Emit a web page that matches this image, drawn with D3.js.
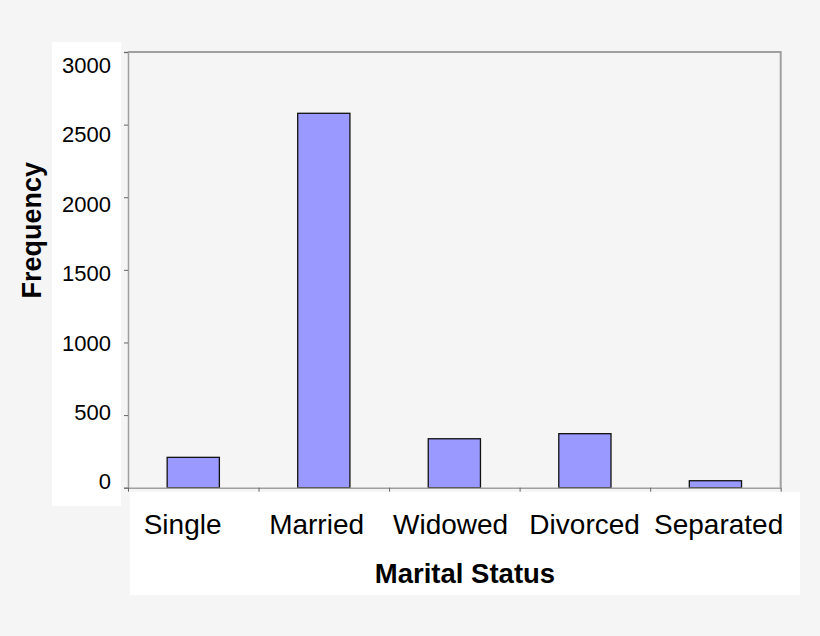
<!DOCTYPE html>
<html lang="en">
<head>
<meta charset="UTF-8">
<title>Marital Status Frequency</title>
<script src="https://d3js.org/d3.v7.min.js"></script>
<style>
  body { margin: 0; background: #f5f5f5; }
  svg { display: block; font-family: "Liberation Sans", Arial, sans-serif; }
</style>
</head>
<body>
<div id="chart"></div>

<script>
// Data
const categories = ["Single", "Married", "Widowed", "Divorced", "Separated"];
const frequencies = [209, 2578, 337, 372, 48];
const yTicks = [0, 500, 1000, 1500, 2000, 2500, 3000];

const W = 820, H = 636;
const plot = { left: 128, right: 780.7, top: 52, bottom: 487.7 };

const svg = d3.select("#chart").append("svg")
  .attr("width", W)
  .attr("height", H);

// Page background and the white label panels
svg.append("rect").attr("width", W).attr("height", H).attr("fill", "#f5f5f5");
svg.append("rect").attr("x", 52).attr("y", 42).attr("width", 69).attr("height", 464).attr("fill", "#fff");
svg.append("rect").attr("x", 130).attr("y", 492).attr("width", 670).attr("height", 103).attr("fill", "#fff");

// Scales
const x = d3.scaleBand()
  .domain(categories)
  .range([plot.left, plot.right])
  .paddingInner(0.6)
  .paddingOuter(0.3);

const xEdge = d3.scaleLinear()
  .domain([0, categories.length])
  .range([plot.left, plot.right]);

// labels in the picture sit on a slightly wider spread than the bars
const xLabel = d3.scaleBand()
  .domain(categories)
  .range([115.6, 785.6]);

const y = d3.scaleLinear()
  .domain([0, 3000])
  .range([plot.bottom, plot.top]);

const yLabel = d3.scaleLinear()
  .domain([0, 3000])
  .range([481, 64.5]);

// Plot frame (top and right)
svg.append("path")
  .attr("d", `M${plot.left},${plot.top}H${plot.right}V${plot.bottom}`)
  .attr("fill", "none")
  .attr("stroke", "#a0a0a0")
  .attr("stroke-width", 2);

// Bars
svg.selectAll("rect.bar")
  .data(frequencies)
  .enter().append("rect")
  .attr("class", "bar")
  .attr("x", (d, i) => x(categories[i]))
  .attr("y", d => y(d))
  .attr("width", x.bandwidth())
  .attr("height", d => y(0) - y(d))
  .attr("fill", "#9999ff")
  .attr("stroke", "#111")
  .attr("stroke-width", 1.3);

// Y axis line + ticks
const yAxis = svg.append("g")
  .attr("transform", `translate(${plot.left},0)`)
  .call(d3.axisLeft(y).tickValues(yTicks).tickSize(4).tickFormat(""));
yAxis.select(".domain").attr("stroke", "#a0a0a0").attr("stroke-width", 1.5);
yAxis.selectAll(".tick line").attr("stroke", "#666");

// Y tick labels
const yLab = svg.append("g")
  .attr("transform", "translate(111,0)")
  .call(d3.axisLeft(yLabel).tickValues(yTicks).tickSize(0).tickPadding(0).tickFormat(d3.format("d")));
yLab.select(".domain").remove();
yLab.selectAll("text")
  .attr("dy", "0.36em")
  .attr("fill", "#000")
  .style("font-size", "22px")
  .style("font-family", "'Liberation Sans', Arial, sans-serif");

// X axis line + boundary ticks
const xAxis = svg.append("g")
  .attr("transform", `translate(0,${plot.bottom})`)
  .call(d3.axisBottom(xEdge).tickValues(d3.range(categories.length + 1)).tickSize(4).tickSizeOuter(0).tickFormat(""));
xAxis.select(".domain").attr("stroke", "#a0a0a0").attr("stroke-width", 1.5);
xAxis.selectAll(".tick line").attr("stroke", "#666");

// Category labels
const xLab = svg.append("g")
  .attr("transform", "translate(0,534)")
  .call(d3.axisBottom(xLabel).tickSize(0));
xLab.select(".domain").remove();
xLab.selectAll("text")
  .attr("y", 0)
  .attr("dy", 0)
  .attr("fill", "#000")
  .style("font-size", "28px")
  .style("font-family", "'Liberation Sans', Arial, sans-serif");

// Axis titles
svg.append("text")
  .attr("x", 465)
  .attr("y", 583.3)
  .attr("text-anchor", "middle")
  .style("font-size", "27.5px")
  .style("font-weight", "bold")
  .text("Marital Status");

svg.append("text")
  .attr("transform", "translate(41,230.3) rotate(-90)")
  .attr("text-anchor", "middle")
  .style("font-size", "27px")
  .style("font-weight", "bold")
  .text("Frequency");
</script>
</body>
</html>
